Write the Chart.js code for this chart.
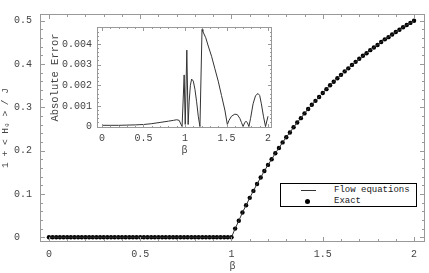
<!DOCTYPE html>
<html>
<head>
<meta charset="utf-8">
<script src="https://cdn.jsdelivr.net/npm/chart.js@4.4.0/dist/chart.umd.min.js"></script>
<style>
  body { margin: 0; background: #fff; }
  #wrap { position: relative; width: 429px; height: 273px; }
  #main { position: absolute; left: 0; top: 0; }
  #inset { position: absolute; left: 44px; top: 16px; }
  #legend {
    position: absolute; left: 280px; top: 183px; width: 135px; height: 22px;
    border: 1px solid #000; background: #fff;
    font: 9px "Liberation Mono", monospace; color: #222;
  }
  #legend .txt { position: absolute; left: 53px; line-height: 10px; white-space: pre; }
  #legend .line { position: absolute; left: 20px; top: 6px; width: 15px; height: 1px; background: #333; }
  #legend .dot { position: absolute; left: 24px; top: 15px; width: 5px; height: 5px; border-radius: 50%; background: #000; }
</style>
</head>
<body>
<div id="wrap">
  <canvas id="main" width="429" height="273"></canvas>
  <canvas id="inset" width="232" height="140"></canvas>
  <div id="legend">
    <div class="line"></div><div class="txt" style="top:1px">Flow equations</div>
    <div class="dot"></div><div class="txt" style="top:12px">Exact</div>
  </div>
</div>
<script>
// main plot: beta grid and exact ground-state values
const betaGrid = [
  0, 0.02, 0.04, 0.06, 0.08, 0.1, 0.12, 0.14, 0.16, 0.18,
  0.2, 0.22, 0.24, 0.26, 0.28, 0.3, 0.32, 0.34, 0.36, 0.38,
  0.4, 0.42, 0.44, 0.46, 0.48, 0.5, 0.52, 0.54, 0.56, 0.58,
  0.6, 0.62, 0.64, 0.66, 0.68, 0.7, 0.72, 0.74, 0.76, 0.78,
  0.8, 0.82, 0.84, 0.86, 0.88, 0.9, 0.92, 0.94, 0.96, 0.98,
  1, 1.02, 1.04, 1.06, 1.08, 1.1, 1.12, 1.14, 1.16, 1.18,
  1.2, 1.22, 1.24, 1.26, 1.28, 1.3, 1.32, 1.34, 1.36, 1.38,
  1.4, 1.42, 1.44, 1.46, 1.48, 1.5, 1.52, 1.54, 1.56, 1.58,
  1.6, 1.62, 1.64, 1.66, 1.68, 1.7, 1.72, 1.74, 1.76, 1.78,
  1.8, 1.82, 1.84, 1.86, 1.88, 1.9, 1.92, 1.94, 1.96, 1.98,
  2
];
const exactVals = [
  0, 0, 0, 0, 0, 0, 0, 0, 0, 0,
  0, 0, 0, 0, 0, 0, 0, 0, 0, 0,
  0, 0, 0, 0, 0, 0, 0, 0, 0, 0,
  0, 0, 0, 0, 0, 0, 0, 0, 0, 0,
  0, 0, 0, 0, 0, 0, 0, 0, 0, 0,
  0, 0.020, 0.038, 0.057, 0.074, 0.091, 0.107, 0.123, 0.138, 0.153,
  0.167, 0.180, 0.194, 0.206, 0.219, 0.231, 0.242, 0.254, 0.265, 0.275,
  0.286, 0.296, 0.306, 0.315, 0.324, 0.333, 0.342, 0.351, 0.359, 0.367,
  0.375, 0.383, 0.390, 0.398, 0.405, 0.412, 0.419, 0.425, 0.432, 0.438,
  0.444, 0.451, 0.457, 0.462, 0.468, 0.474, 0.479, 0.485, 0.490, 0.495,
  0.5
];
// flow-equation curve sits on top of the exact points at this scale
const flowVals = exactVals.slice();

const xTicks = [0, 0.5, 1, 1.5, 2];
const xTickLabels = ['0', '0.5', '1', '1.5', '2'];
const yTicks = [0, 0.1, 0.2, 0.3, 0.4, 0.5];
const yTickLabels = ['0  ', '0.1', '0.2', '0.3', '0.4', '0.5'];

// inset: absolute error of the flow equations
const errBeta = [
  0, 0.1, 0.2, 0.3, 0.4, 0.5, 0.6, 0.7, 0.8, 0.86,
  0.9, 0.93, 0.95, 0.965, 0.99, 1.003, 1.022, 1.038, 1.05,
  1.065, 1.08, 1.1, 1.12, 1.14, 1.16, 1.18, 1.205, 1.215, 1.25,
  1.28, 1.32, 1.36, 1.4, 1.44, 1.48, 1.51, 1.53, 1.56, 1.6,
  1.63, 1.66, 1.68, 1.7, 1.72, 1.735, 1.75, 1.77, 1.79, 1.82,
  1.85, 1.88, 1.9, 1.92, 1.945, 1.97, 2
];
const errVals = [
  0.00006, 0.00006, 0.00006, 0.00007, 0.00008, 0.0001, 0.00014, 0.0002, 0.00026, 0.0003,
  0.00033, 0.0003, 0.00012, 0, 0.0025, 0.0001, 0.0037, 0.0001, 0.0012,
  0.0020, 0.0023, 0.0022, 0.0018, 0.0012, 0.0005, 0, 0.0047, 0.0046, 0.0043,
  0.0039, 0.0034, 0.0028, 0.0022, 0.0015, 0.0008, 0.0001, 0.0003, 0.0005, 0.0006,
  0.00058, 0.0004, 0.0002, 0, 0.0002, 0.00025, 0.0002, 0, 0.0004, 0.0011,
  0.0015, 0.0016, 0.0015, 0.0011, 0.0005, 0, 0.0005
];
const insetXTicks = [0, 0.5, 1, 1.5, 2];
const insetXLabels = ['0', '0.5', '1', '1.5', '2'];
const insetYTicks = [0, 0.001, 0.002, 0.003, 0.004];
const insetYLabels = ['0', '0.001', '0.002', '0.003', '0.004'];

const mono = '"Liberation Mono", "DejaVu Sans Mono", monospace';

function steps(from, to, step) {
  const out = [];
  for (let i = 0; from + i * step <= to + 1e-9; i++) out.push(+(from + i * step).toFixed(6));
  return out;
}

// Mathematica-style frame with inward ticks on all four sides
function frameTicks(cfg) {
  return {
    id: 'frameTicks',
    afterDraw(chart) {
      const { ctx, chartArea: a, scales: { x, y } } = chart;
      ctx.save();
      ctx.strokeStyle = cfg.color;
      ctx.lineWidth = 1;
      ctx.strokeRect(a.left + 0.5, a.top + 0.5, a.right - a.left - 1, a.bottom - a.top - 1);
      ctx.beginPath();
      const xs = (vals, len) => vals.forEach(v => {
        const px = Math.round(x.getPixelForValue(v)) + 0.5;
        ctx.moveTo(px, a.bottom); ctx.lineTo(px, a.bottom - len);
        ctx.moveTo(px, a.top); ctx.lineTo(px, a.top + len);
      });
      const ys = (vals, len) => vals.forEach(v => {
        const py = Math.round(y.getPixelForValue(v)) + 0.5;
        ctx.moveTo(a.left, py); ctx.lineTo(a.left + len, py);
        ctx.moveTo(a.right, py); ctx.lineTo(a.right - len, py);
      });
      xs(cfg.xMinor, cfg.minLen); xs(cfg.xMajor, cfg.majLen);
      ys(cfg.yMinor, cfg.minLen); ys(cfg.yMajor, cfg.majLen);
      ctx.stroke();
      ctx.restore();
    }
  };
}

function axis(opts) {
  return {
    type: 'linear',
    min: opts.min,
    max: opts.max,
    afterBuildTicks: s => { s.ticks = opts.ticks.map(v => ({ value: v })); },
    afterFit: opts.fit,
    grid: { display: false, drawTicks: false },
    border: { display: false },
    ticks: {
      padding: opts.pad,
      color: '#444',
      font: { family: mono, size: 10 },
      autoSkip: false,
      maxRotation: 0,
      callback: (v, i) => opts.labels[i]
    },
    title: opts.title
  };
}

new Chart(document.getElementById('main').getContext('2d'), {
  type: 'scatter',
  data: {
    datasets: [{
      label: 'Flow equations',
      data: betaGrid.map((b, i) => ({ x: b, y: flowVals[i] })),
      showLine: true,
      borderColor: '#333',
      borderWidth: 1,
      pointRadius: 0,
      tension: 0
    }, {
      label: 'Exact',
      data: betaGrid.map((b, i) => ({ x: b, y: exactVals[i] })),
      showLine: false,
      pointRadius: 2.2,
      pointBackgroundColor: '#000',
      pointBorderWidth: 0
    }]
  },
  options: {
    responsive: false,
    animation: false,
    layout: { padding: { left: 0, top: 4, right: 3, bottom: 0 } },
    plugins: { legend: { display: false }, tooltip: { enabled: false } },
    scales: {
      x: axis({
        min: -0.049, max: 2.06, ticks: xTicks, labels: xTickLabels, pad: 6,
        fit: s => { s.height = 31; },
        title: { display: true, text: 'β', color: '#444', font: { family: mono, size: 10, lineHeight: 1.2 }, padding: { top: 0, bottom: 1 } }
      }),
      y: axis({
        min: -0.011, max: 0.5155, ticks: yTicks, labels: yTickLabels, pad: 8,
        fit: s => { s.width = 40; },
        title: { display: true, text: '1 + < H₀ > / J', color: '#444', font: { family: mono, size: 9.5, lineHeight: 1.1 }, padding: { top: 0, bottom: 0 } }
      })
    }
  },
  plugins: [frameTicks({
    color: '#999', majLen: 5, minLen: 3,
    xMajor: xTicks, xMinor: steps(0, 2, 0.1),
    yMajor: yTicks, yMinor: steps(0, 0.5, 0.02)
  })]
});

new Chart(document.getElementById('inset').getContext('2d'), {
  type: 'scatter',
  data: {
    datasets: [{
      label: 'Absolute Error',
      data: errBeta.map((b, i) => ({ x: b, y: errVals[i] })),
      showLine: true,
      borderColor: '#333',
      borderWidth: 1,
      pointRadius: 0,
      tension: 0
    }]
  },
  options: {
    responsive: false,
    animation: false,
    layout: { padding: { left: 0, top: 5, right: 4, bottom: 0 } },
    plugins: { legend: { display: false }, tooltip: { enabled: false } },
    scales: {
      x: axis({
        min: -0.06, max: 2.048, ticks: insetXTicks, labels: insetXLabels, pad: 4,
        fit: s => { s.height = 28; },
        title: { display: true, text: 'β', color: '#444', font: { family: mono, size: 10, lineHeight: 1.2 }, padding: { top: 0, bottom: 0 } }
      }),
      y: axis({
        min: -0.00007, max: 0.00482, ticks: insetYTicks, labels: insetYLabels, pad: 5,
        fit: s => { s.width = 53; },
        title: { display: true, text: 'Absolute Error', color: '#444', font: { family: mono, size: 10.5, lineHeight: 1.2 }, padding: { top: 5, bottom: 0 } }
      })
    }
  },
  plugins: [frameTicks({
    color: '#999', majLen: 4, minLen: 2,
    xMajor: insetXTicks, xMinor: steps(0, 2, 0.1),
    yMajor: insetYTicks, yMinor: steps(0, 0.0048, 0.0002)
  })]
});
</script>
</body>
</html>
